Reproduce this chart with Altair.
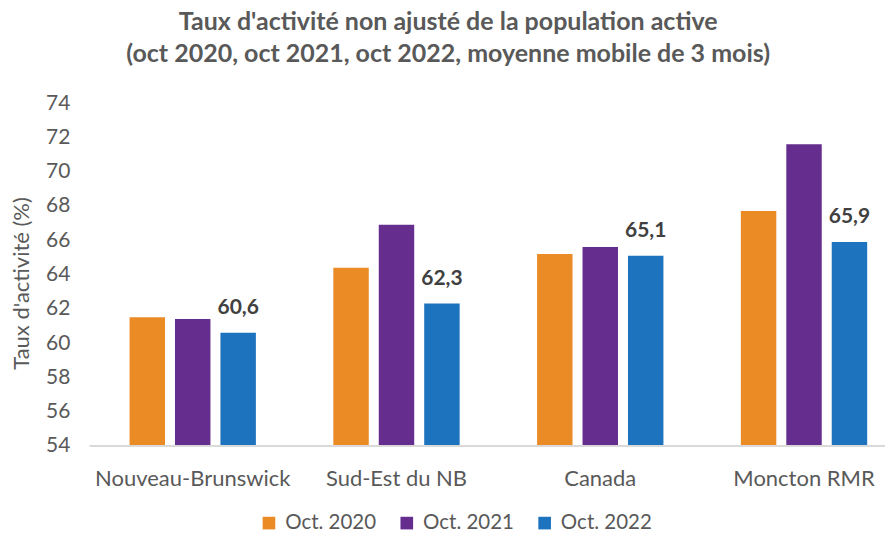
import altair as alt
import pandas as pd

categories = ["Nouveau-Brunswick", "Sud-Est du NB", "Canada", "Moncton RMR"]
series = ["Oct. 2020", "Oct. 2021", "Oct. 2022"]
oct2020 = [61.5, 64.4, 65.2, 67.7]
oct2021 = [61.4, 66.9, 65.6, 71.6]
oct2022 = [60.6, 62.3, 65.1, 65.9]
colors = ["#EA8B25", "#652D8E", "#1E73BE"]
y_ticks = [54, 56, 58, 60, 62, 64, 66, 68, 70, 72, 74]

rows = []
for s, vals in zip(series, [oct2020, oct2021, oct2022]):
    for c, v in zip(categories, vals):
        rows.append({"Région": c, "Période": s, "Valeur": v})
df = pd.DataFrame(rows)

font = "Lato"
grey = "#595959"
W, H = 796, 343

x = alt.X("Région:N", sort=categories,
          scale=alt.Scale(paddingInner=0.38, paddingOuter=0.141, align=0.69),
          axis=alt.Axis(title=None, labelAngle=0, labelFontSize=22, labelColor=grey,
                        labelFont=font, labelPadding=23, ticks=False, domain=False,
                        labelLimit=0, labelOverlap=False))
xo = alt.XOffset("Période:N", sort=series,
                 scale=alt.Scale(domain=series, paddingInner=0.22))
y = alt.Y("Valeur:Q",
          scale=alt.Scale(domain=[54, 74], nice=False, zero=False),
          axis=alt.Axis(title="Taux d'activité (%)", values=y_ticks, grid=False,
                        domain=False, ticks=False, labelFontSize=21, labelColor=grey,
                        labelFont=font, labelPadding=20, labelOverlap=False,
                        titleFont=font,
                        titleFontSize=22, titleColor=grey, titleFontWeight="normal",
                        titlePadding=12, titleY=180))

bars = alt.Chart(df).mark_bar(clip=True).encode(
    x=x, xOffset=xo, y=y, y2=alt.datum(54),
    color=alt.Color("Période:N", sort=series,
                    scale=alt.Scale(domain=series, range=colors),
                    legend=alt.Legend(title=None, orient="none", direction="horizontal",
                                      legendX=169, legendY=410, padding=0,
                                      symbolType="square", symbolSize=160,
                                      symbolStrokeWidth=0, labelFontSize=20.5,
                                      labelColor=grey, labelFont=font,
                                      columnPadding=20, labelOffset=6)),
)

baseline = alt.Chart(df).mark_rule(color="#D9D9D9", strokeWidth=1.5).encode(
    x=alt.value(0), x2=alt.value(W), y=alt.value(H)
)

labels = alt.Chart(df).transform_filter(
    alt.datum["Période"] == "Oct. 2022"
).transform_calculate(
    lab="replace(format(datum['Valeur'], '.1f'), '.', ',')"
).mark_text(baseline="bottom", dy=-15, fontSize=21, fontWeight="bold",
            color="#404040", font=font).encode(
    x=x, xOffset=xo, y=y, text="lab:N"
)

chart = alt.layer(bars, baseline, labels).properties(
    width=W, height=H,
    padding={"left": 2, "top": 2, "right": 0, "bottom": 0},
    title=alt.TitleParams(
        text=["Taux d'activité non ajusté de la population active",
              "(oct 2020, oct 2021, oct 2022, moyenne mobile de 3 mois)"],
        fontSize=25, font=font, fontWeight="bold", color=grey,
        lineHeight=32, anchor="middle", frame="bounds", offset=25),
).configure_view(stroke=None)

chart.save("out.html", embed_options={"renderer": "svg", "actions": False})
